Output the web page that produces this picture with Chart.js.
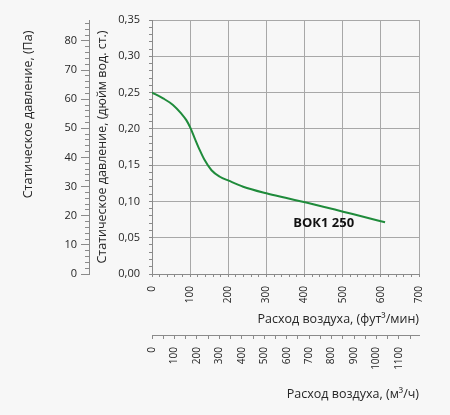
<!DOCTYPE html>
<html>
<head>
<meta charset="utf-8">
<script src="https://cdn.jsdelivr.net/npm/chart.js@4/dist/chart.umd.min.js"></script>
<style>
	html, body { margin: 0; padding: 0; background: #f7f7f7; }
	#wrap { width: 450px; height: 415px; }
</style>
</head>
<body>
<div id="wrap"><canvas id="canvas" width="450" height="415"></canvas></div>
<script>
// curve: air flow (cfm) / static pressure (in. wg)
var flowCfm = [0, 29, 55, 77, 90, 101, 112, 125, 138, 156, 178, 201, 239, 300, 350, 401, 449, 501, 554, 611];
var pressureInWg = [0.250, 0.242, 0.233, 0.221, 0.212, 0.201, 0.187, 0.171, 0.157, 0.143, 0.134, 0.1286, 0.1203, 0.1112, 0.105, 0.0988, 0.0928, 0.0859, 0.079, 0.0712];

var curveName = "ВОК1 250";
var curveNameAt = [450, 0.070];

// tick labels
var cfmLabels = [0, 100, 200, 300, 400, 500, 600, 700];
var m3hLabels = [0, 100, 200, 300, 400, 500, 600, 700, 800, 900, 1000, 1100];
var inWgLabels = [0, 0.05, 0.10, 0.15, 0.20, 0.25, 0.30, 0.35];
var paLabels = [0, 10, 20, 30, 40, 50, 60, 70, 80];

var CFM_TO_M3H = 1.699;
var INWG_TO_PA = 249.09;

var gridColor = "#a8a8a8";
var axisColor = "#8a8a8a";
var textColor = "#262626";
var fontName = "'Open Sans', 'DejaVu Sans', sans-serif";

function hasLabel(list, v) {
	for (var i = 0; i < list.length; i++) {
		if (Math.abs(list[i] - v) < 1e-6) return true;
	}
	return false;
}

var curveNamePlugin = {
	id: "curveName",
	afterDatasetsDraw: function(chart) {
		var ctx = chart.ctx;
		ctx.save();
		ctx.font = "bold 13px " + fontName;
		ctx.fillStyle = "#111";
		ctx.textAlign = "center";
		ctx.textBaseline = "middle";
		ctx.fillText(curveName, chart.scales.x.getPixelForValue(curveNameAt[0]), chart.scales.y.getPixelForValue(curveNameAt[1]));
		ctx.restore();
	}
};

var paTitlePlugin = {
	id: "paTitle",
	afterDraw: function(chart) {
		var ctx = chart.ctx;
		ctx.save();
		ctx.translate(28, 114.5);
		ctx.rotate(-Math.PI / 2);
		ctx.font = "12.5px " + fontName;
		ctx.fillStyle = textColor;
		ctx.textAlign = "center";
		ctx.textBaseline = "middle";
		ctx.fillText("Статическое давление, (Па)", 0, 0);
		ctx.restore();
	}
};

var points = [];
for (var i = 0; i < flowCfm.length; i++) {
	points.push({ x: flowCfm[i], y: pressureInWg[i] });
}

var ctx = document.getElementById("canvas").getContext("2d");
window.myChart = new Chart(ctx, {
	type: "scatter",
	data: {
		datasets: [{
			label: curveName,
			data: points,
			showLine: true,
			borderColor: "#1f8b3b",
			borderWidth: 2,
			pointRadius: 0,
			cubicInterpolationMode: "monotone",
			xAxisID: "x",
			yAxisID: "y"
		}]
	},
	plugins: [curveNamePlugin, paTitlePlugin],
	options: {
		responsive: false,
		animation: false,
		layout: { padding: { left: 0, right: 31, top: 20, bottom: 10 } },
		plugins: { legend: { display: false }, tooltip: { enabled: false } },
		scales: {
			x: {
				type: "linear", position: "bottom", weight: 0,
				min: 0, max: 700,
				ticks: {
					stepSize: 20, autoSkip: false, maxRotation: 90, minRotation: 90,
					padding: 9, color: textColor, font: { family: fontName, size: 10 },
					callback: function(v) { return hasLabel(cfmLabels, v) ? String(v) : ""; }
				},
				grid: {
					color: function(c) { return c.tick && hasLabel(cfmLabels, c.tick.value) ? gridColor : "rgba(0,0,0,0)"; },
					tickColor: axisColor, tickLength: 3
				},
				border: { color: axisColor },
				title: {
					display: true, text: "Расход воздуха, (фут³/мин)", align: "end",
					color: textColor, font: { family: fontName, size: 12.5 },
					padding: { top: 0, bottom: 7.8 }
				},
				afterFit: function(s) { s.height = 61; }
			},
			x2: {
				type: "linear", position: "bottom", weight: 1,
				min: 0, max: 700 * CFM_TO_M3H,
				ticks: {
					stepSize: 50, includeBounds: false, autoSkip: false, maxRotation: 90, minRotation: 90,
					padding: 8, color: textColor, font: { family: fontName, size: 10 },
					callback: function(v) { return hasLabel(m3hLabels, v) ? String(v) : ""; }
				},
				grid: { drawOnChartArea: false, tickColor: axisColor, tickLength: 4 },
				border: { color: axisColor },
				title: {
					display: true, text: "Расход воздуха, (м³/ч)", align: "end",
					color: textColor, font: { family: fontName, size: 12.5 },
					padding: { top: 0, bottom: 2.8 }
				},
				afterFit: function(s) { s.height = 70; }
			},
			y: {
				type: "linear", position: "left", weight: 0,
				min: 0, max: 0.35,
				ticks: {
					stepSize: 0.01, autoSkip: false, padding: 9, color: textColor,
					font: { family: fontName, size: 11 },
					callback: function(v) { return hasLabel(inWgLabels, v) ? v.toFixed(2).replace(".", ",") : ""; }
				},
				grid: {
					color: function(c) { return c.tick && hasLabel(inWgLabels, c.tick.value) ? gridColor : "rgba(0,0,0,0)"; },
					tickColor: axisColor, tickLength: 3
				},
				border: { color: axisColor },
				title: {
					display: true, text: "Статическое давление, (дюйм вод. ст.)",
					color: textColor, font: { family: fontName, size: 12.5 },
					padding: { top: 6, bottom: 0 }
				},
				afterFit: function(s) { s.width = 63; }
			},
			yPa: {
				type: "linear", position: "left", weight: 1,
				min: 0, max: 0.35 * INWG_TO_PA,
				ticks: {
					stepSize: 2, includeBounds: false, autoSkip: false, padding: 4, color: textColor,
					font: { family: fontName, size: 11 },
					callback: function(v) { return hasLabel(paLabels, v) ? String(v) : ""; }
				},
				grid: {
					drawOnChartArea: false, tickColor: axisColor, tickLength: 8,
					tickBorderDash: function(c) { return c.tick && hasLabel(paLabels, c.tick.value) ? [] : [4, 4]; },
					tickBorderDashOffset: function(c) { return c.tick && hasLabel(paLabels, c.tick.value) ? 0 : 4; }
				},
				border: { color: axisColor },
				afterFit: function(s) { s.width = 89; }
			}
		}
	}
});
</script>
</body>
</html>
